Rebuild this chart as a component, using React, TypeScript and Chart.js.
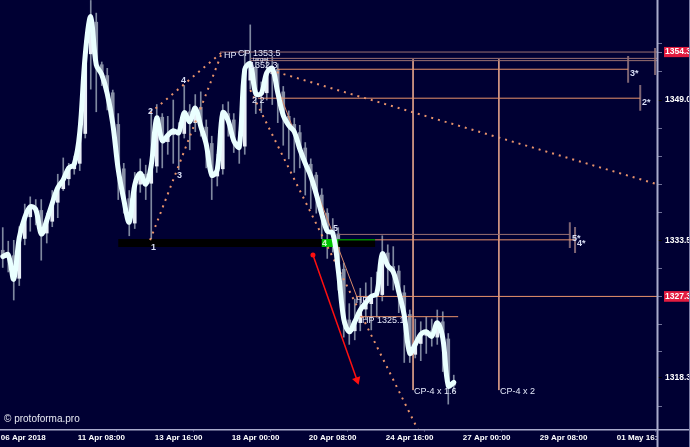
import { useEffect, useRef } from 'react';
import { Chart, registerables } from 'chart.js';

Chart.register(...registerables);

// ---- XAUUSD-style H4 bars (index 0 = first visible bar) ----
const closes = [
  1331.7, 1331.9, 1329.2, 1333.8, 1336.0, 1337.2, 1336.9, 1334.2, 1335.7, 1337.6,
  1339.3, 1340.2, 1341.5, 1341.9, 1345.4, 1354.0, 1358.2, 1352.9, 1351.8, 1349.7,
  1346.4, 1341.3, 1338.0, 1335.5, 1339.6, 1340.9, 1339.7, 1341.8, 1347.0, 1344.5,
  1345.1, 1345.6, 1345.4, 1347.6, 1346.6, 1348.1, 1346.1, 1344.1, 1340.7, 1341.3,
  1347.6, 1346.7, 1344.5, 1343.8, 1352.4, 1353.0, 1349.7, 1349.7, 1352.0, 1352.5,
  1349.8, 1347.3, 1346.2, 1345.5, 1343.6, 1342.0, 1340.6, 1338.6, 1336.4, 1334.5,
  1334.3, 1330.2, 1324.8, 1323.4, 1324.5, 1325.8, 1326.6, 1327.3, 1327.6, 1332.0,
  1330.7, 1330.0, 1327.8, 1325.2, 1321.0, 1322.0, 1323.1, 1323.4, 1322.9, 1324.4,
  1322.7, 1317.4, 1317.8,
];
const opens = [
  1332.4, 1331.6, 1331.8, 1329.3, 1333.7, 1336.1, 1337.1, 1336.8, 1334.3, 1335.6,
  1337.7, 1339.2, 1340.3, 1341.4, 1342.0, 1345.3, 1354.1, 1357.6, 1352.9, 1351.7,
  1349.8, 1346.3, 1341.4, 1338.1, 1335.4, 1339.7, 1340.8, 1339.8, 1341.7, 1347.1,
  1344.4, 1345.2, 1345.5, 1345.3, 1347.7, 1346.5, 1348.2, 1346.0, 1344.2, 1340.6,
  1341.4, 1347.5, 1346.8, 1344.4, 1343.9, 1351.2, 1352.6, 1349.6, 1349.8, 1351.9,
  1352.4, 1349.9, 1347.2, 1346.3, 1345.4, 1343.7, 1341.9, 1340.7, 1338.5, 1336.5,
  1334.4, 1334.2, 1330.3, 1324.7, 1323.5, 1324.4, 1325.9, 1326.5, 1327.4, 1327.5,
  1332.1, 1330.6, 1330.1, 1327.7, 1325.3, 1320.9, 1322.1, 1323.0, 1323.5, 1322.8,
  1324.5, 1322.6, 1317.5,
];
const highs = [
  1334.9, 1333.4, 1333.5, 1335.0, 1337.5, 1338.3, 1338.0, 1338.0, 1336.5, 1339.0,
  1340.8, 1342.6, 1342.0, 1342.8, 1346.1, 1355.6, 1360.0, 1358.6, 1353.2, 1352.5,
  1350.1, 1347.5, 1342.0, 1339.0, 1341.0, 1342.5, 1341.8, 1348.0, 1348.5, 1347.5,
  1347.2, 1349.0, 1346.5, 1350.6, 1348.5, 1349.6, 1349.9, 1346.8, 1345.0, 1343.0,
  1348.5, 1348.8, 1347.5, 1345.5, 1354.5, 1357.3, 1353.2, 1351.0, 1353.5, 1353.8,
  1353.0, 1350.5, 1347.8, 1347.0, 1346.2, 1344.3, 1342.5, 1341.0, 1339.2, 1337.0,
  1335.9, 1334.9, 1331.0, 1326.5, 1327.0, 1328.2, 1328.8, 1329.4, 1330.0, 1334.0,
  1333.0, 1332.8, 1330.7, 1328.5, 1325.8, 1324.8, 1324.5, 1325.0, 1324.8, 1325.8,
  1325.6, 1323.2, 1318.6,
];
const lows = [
  1330.5, 1330.0, 1326.9, 1328.5, 1333.0, 1334.5, 1335.2, 1331.3, 1333.2, 1335.0,
  1336.0, 1339.0, 1339.6, 1340.8, 1341.2, 1344.8, 1350.2, 1347.7, 1350.6, 1347.9,
  1346.0, 1338.0, 1336.5, 1334.0, 1334.8, 1338.8, 1338.0, 1333.4, 1341.0, 1341.5,
  1343.0, 1342.0, 1341.3, 1344.8, 1343.5, 1345.5, 1345.0, 1341.5, 1338.0, 1339.5,
  1340.8, 1345.0, 1343.2, 1342.0, 1343.0, 1350.2, 1347.5, 1347.6, 1349.0, 1348.5,
  1346.5, 1344.0, 1342.5, 1341.0, 1341.5, 1338.5, 1337.0, 1336.5, 1333.5, 1331.5,
  1332.2, 1328.0, 1322.8, 1322.0, 1322.5, 1323.5, 1324.8, 1323.6, 1325.0, 1326.8,
  1328.5, 1328.0, 1325.5, 1320.0, 1320.0, 1320.5, 1320.2, 1321.0, 1321.8, 1322.0,
  1319.0, 1315.4, 1316.8,
];

// ---- time axis ----
const timeLabels = [
  '06 Apr 2018', '11 Apr 08:00', '13 Apr 16:00', '18 Apr 00:00', '20 Apr 08:00',
  '24 Apr 16:00', '27 Apr 00:00', '29 Apr 08:00', '01 May 16:00',
];
const timeLabelBars = [0, 14, 28, 42, 56, 70, 84, 98, 112];
const firstBar = -0.5;
const lastBar = 118.95;

// ---- price axis ----
const priceMin = 1312.65;
const priceMax = 1360.05;
const priceGridTicks = [
  1355.2, 1352.1, 1349.0, 1345.9, 1342.8, 1339.7, 1336.6, 1333.5, 1330.4, 1327.3,
  1324.2, 1321.2, 1318.3, 1315.1,
];
const priceLabels = [1349.0, 1333.5, 1318.3];
const markedPrices = [1354.3, 1327.3];

// ---- pattern markup (bar index / price) ----
// horizontal levels: [price, fromBar, toBar]
const targetLevels = [
  [1354.3, 39.5, lastBar],
  [1353.6, 45.0, lastBar],
  [1353.35, 45.0, lastBar],
  [1334.15, 61.0, 103.1],
];
const projectionLevels = [
  [1352.4, 49.9, 113.7],
  [1349.2, 46.4, 115.9],
  [1333.55, 67.7, 104.05],
  [1327.3, 64.2, lastBar],
  [1325.06, 64.6, 82.8],
];
// vertical marks: [bar, fromPrice, toPrice]
const timeMarks = [
  [74.6, 1353.5, 1316.95],
  [90.2, 1353.5, 1316.95],
];
const levelEnds = [
  [113.7, 1353.86, 1350.9],
  [115.9, 1350.66, 1347.8],
  [103.1, 1335.5, 1332.65],
  [104.05, 1334.97, 1332.1],
  [118.6, 1354.75, 1351.76],
];
// dotted rays: [bar1, price1, bar2, price2]
const dottedRays = [
  [26.8, 1347.56, 39.9, 1354.3],
  [26.8, 1333.53, 39.9, 1354.3],
  [48.6, 1352.3, lastBar, 1339.7],
  [45.0, 1350.1, 75.5, 1312.55],
];
const trendLine = [48.6, 1352.54, 64.6, 1326.9];
const signalArrow = [56.4, 1331.87, 64.4, 1318.06];
// zone: [fromBar, toBar, price]
const zoneBand = [21.0, 67.7, 1333.2];
const zoneActive = [58.0, 61.0, 1333.2];
const zoneEdge = [61.0, 67.7, 1333.55];

// text notes: [text, bar, price]
const notes: [string, number, number][] = [
  ['HP', 40.23, 1353.97],
  ['CP 1353.5', 42.77, 1354.19],
  ['1352.3', 44.95, 1352.76],
  ['2 2', 45.3, 1348.89],
  ['HP', 64.2, 1326.9],
  ['HP 1325.1', 65.3, 1324.69],
  ['CP-4 x 1.6', 74.77, 1316.74],
  ['CP-4 x 2', 90.4, 1316.74],
];
const smallNotes: [string, number, number][] = [['target', 45.5, 1353.53]];
const pointLabels: [string, number, number][] = [
  ['1', 26.95, 1332.65],
  ['2', 26.4, 1347.78],
  ['3', 31.7, 1340.71],
  ['4', 32.4, 1351.1],
  ['5', 60.05, 1334.75],
  ['3*', 114.05, 1351.98],
  ['2*', 116.23, 1348.67],
  ['5*', 103.5, 1333.75],
  ['4*', 104.4, 1333.09],
];
const zoneLabels: [string, number, number][] = [['4', 58.05, 1333.09]];

const BG = '#000033';
const ORANGE = '#e8936c';
const BROWN = '#9a7072';
const FONT = '"Liberation Sans", Arial, sans-serif';

const seg = (x1: number, y1: number, x2: number, y2: number) => [
  { x: x1, y: y1 },
  { x: x2, y: y2 },
];

const lineDs = (data: any, color: string, width: number, order: number, dash: number[] = []) => ({
  type: 'line',
  data,
  borderColor: color,
  borderWidth: width,
  borderDash: dash,
  pointRadius: 0,
  tension: 0,
  order,
});

const notesPlugin = {
  id: 'notes',
  afterDatasetsDraw(chart: any) {
    const { ctx, scales } = chart;
    const X = scales.x;
    const Y = scales.y;
    ctx.save();
    ctx.textBaseline = 'middle';
    ctx.textAlign = 'left';
    const put = (list: [string, number, number][], font: string, color: string) => {
      ctx.font = font;
      ctx.fillStyle = color;
      for (const [t, b, p] of list) ctx.fillText(t, X.getPixelForValue(b), Y.getPixelForValue(p));
    };
    put(notes, `9px ${FONT}`, '#e4e8fa');
    put(smallNotes, `6px ${FONT}`, '#e4e8fa');
    put(pointLabels, `bold 9px ${FONT}`, '#d8def5');
    put(zoneLabels, `bold 9px ${FONT}`, '#b8ffb8');
    ctx.restore();
  },
};

const framePlugin = {
  id: 'frame',
  beforeDraw(chart: any) {
    const { ctx, width, height } = chart;
    ctx.save();
    ctx.fillStyle = BG;
    ctx.fillRect(0, 0, width, height);
    ctx.restore();
  },
  afterDraw(chart: any) {
    const { ctx, chartArea } = chart;
    const r = chartArea.right;
    const b = chartArea.bottom;
    ctx.save();
    ctx.fillStyle = BG;
    ctx.fillRect(r + 1, b + 1, 40, 30);
    ctx.strokeStyle = '#a9abcc';
    ctx.lineWidth = 2;
    ctx.beginPath();
    ctx.moveTo(r + 0.5, 0);
    ctx.lineTo(r + 0.5, 447);
    ctx.stroke();
    ctx.lineWidth = 1.5;
    ctx.beginPath();
    ctx.moveTo(0, b + 0.75);
    ctx.lineTo(690, b + 0.75);
    ctx.stroke();
    ctx.strokeStyle = '#7c7ea6';
    ctx.lineWidth = 1;
    ctx.beginPath();
    ctx.moveTo(689.5, 0);
    ctx.lineTo(689.5, 447);
    ctx.stroke();
    ctx.font = `10px ${FONT}`;
    ctx.fillStyle = '#e6e8f2';
    ctx.textBaseline = 'middle';
    ctx.fillText('\u00A9 protoforma.pro', 4, 419);
    ctx.restore();
  },
};

const noEdgePadding = (scale: any) => {
  scale.paddingTop = 0;
  scale.paddingBottom = 0;
  scale.paddingLeft = 0;
  scale.paddingRight = 0;
};

export default function App() {
  const ref = useRef<HTMLCanvasElement | null>(null);

  useEffect(() => {
    if (!ref.current) return;

    const datasets: any[] = [];

    // price line
    datasets.push({
      type: 'line',
      data: closes.map((c, i) => ({ x: i, y: c })),
      borderColor: '#eaffff',
      borderWidth: 5,
      pointRadius: 0,
      tension: 0.35,
      borderCapStyle: 'round',
      borderJoinStyle: 'round',
      order: 0,
    });

    // candles
    datasets.push({
      type: 'bar',
      data: highs.map((h, i) => ({ x: i, y: [lows[i], h] })),
      backgroundColor: '#7f88a0',
      barThickness: 1,
      grouped: false,
      order: 6,
    });
    datasets.push({
      type: 'bar',
      data: opens.map((o, i) => ({ x: i, y: [o, closes[i]] })),
      backgroundColor: opens.map((o, i) => (closes[i] >= o ? '#e8eef6' : '#8890a6')),
      barThickness: 3,
      minBarLength: 1,
      grouped: false,
      order: 5,
    });

    // zone
    datasets.push(lineDs(seg(zoneBand[0], zoneBand[2], zoneBand[1], zoneBand[2]), '#000000', 8, 4));
    datasets.push(lineDs(seg(zoneActive[0], zoneActive[2], zoneActive[1], zoneActive[2]), '#00c400', 8, 3));
    datasets.push(lineDs(seg(zoneEdge[0], zoneEdge[2], zoneEdge[1], zoneEdge[2]), '#00c400', 1, 3));

    // levels
    for (const [p, a, b] of targetLevels) datasets.push(lineDs(seg(a, p, b, p), BROWN, 1, 2));
    for (const [p, a, b] of projectionLevels) datasets.push(lineDs(seg(a, p, b, p), ORANGE, 1, 2));
    for (const [b, p1, p2] of timeMarks) datasets.push(lineDs(seg(b, p1, b, p2), '#d69a86', 1, 2));
    for (const [b, p1, p2] of levelEnds) datasets.push(lineDs(seg(b, p1, b, p2), '#7d6473', 2, 2));
    for (const [b1, p1, b2, p2] of dottedRays)
      datasets.push(lineDs(seg(b1, p1, b2, p2), ORANGE, 2, 2, [2, 5]));
    datasets.push(lineDs(seg(trendLine[0], trendLine[1], trendLine[2], trendLine[3]), '#d98a6a', 1, 2));

    // signal arrow
    datasets.push({
      type: 'line',
      data: seg(signalArrow[0], signalArrow[1], signalArrow[2], signalArrow[3]),
      borderColor: '#ff1010',
      borderWidth: 1.5,
      tension: 0,
      pointRadius: [2.5, 5],
      pointStyle: ['circle', 'triangle'],
      pointBackgroundColor: '#ff1010',
      pointBorderColor: '#ff1010',
      pointBorderWidth: 0,
      pointRotation: (ctx: any) => {
        const c = ctx.chart;
        const X = c.scales.x;
        const Y = c.scales.y;
        if (!X || !Y) return 0;
        const dx = X.getPixelForValue(signalArrow[2]) - X.getPixelForValue(signalArrow[0]);
        const dy = Y.getPixelForValue(signalArrow[3]) - Y.getPixelForValue(signalArrow[1]);
        return (Math.atan2(dx, -dy) * 180) / Math.PI;
      },
      order: 1,
    });

    const chart = new Chart(ref.current, {
      type: 'line',
      data: { datasets },
      options: {
        animation: false,
        responsive: false,
        events: [],
        layout: { padding: 0, autoPadding: false },
        plugins: { legend: { display: false }, tooltip: { enabled: false } },
        scales: {
          x: {
            type: 'linear',
            min: firstBar,
            max: lastBar,
            offset: false,
            afterBuildTicks: (scale: any) => {
              scale.ticks = timeLabelBars.map((b) => ({ value: b - 0.35 }));
            },
            afterFit: (scale: any) => {
              scale.height = 18;
              noEdgePadding(scale);
            },
            grid: { drawOnChartArea: false, tickLength: 3, color: '#3c3e6a' },
            border: { display: false },
            ticks: {
              autoSkip: false,
              maxRotation: 0,
              minRotation: 0,
              align: 'start',
              padding: 1,
              color: '#ffffff',
              font: { family: FONT, size: 8, weight: 'bold' },
              callback: (_v: any, i: number) => timeLabels[i],
            },
          },
          y: {
            type: 'linear',
            position: 'right',
            min: priceMin,
            max: priceMax,
            afterBuildTicks: (scale: any) => {
              scale.ticks = [...priceGridTicks, ...markedPrices].map((v) => ({ value: v }));
            },
            afterFit: (scale: any) => {
              scale.width = 33;
              noEdgePadding(scale);
            },
            grid: {
              drawOnChartArea: false,
              tickLength: 5,
              color: (ctx: any) =>
                ctx.tick && priceLabels.includes(ctx.tick.value) ? '#000000' : '#6e7096',
            },
            border: { display: false },
            ticks: {
              padding: 3,
              color: '#ffffff',
              font: { family: FONT, size: 8.5, weight: 'bold' },
              showLabelBackdrop: (ctx: any) => !!ctx.tick && markedPrices.includes(ctx.tick.value),
              backdropColor: '#e31c40',
              backdropPadding: { left: 1, right: 4, top: 0, bottom: 0 },
              callback: (v: any) =>
                priceLabels.includes(v) || markedPrices.includes(v) ? Number(v).toFixed(1) : '',
            },
          },
        },
      },
      plugins: [framePlugin, notesPlugin],
    } as any);

    return () => chart.destroy();
  }, []);

  return (
    <div style={{ position: 'fixed', left: 0, top: 0, width: 690, height: 447, background: BG }}>
      <canvas ref={ref} width={690} height={447} />
    </div>
  );
}
